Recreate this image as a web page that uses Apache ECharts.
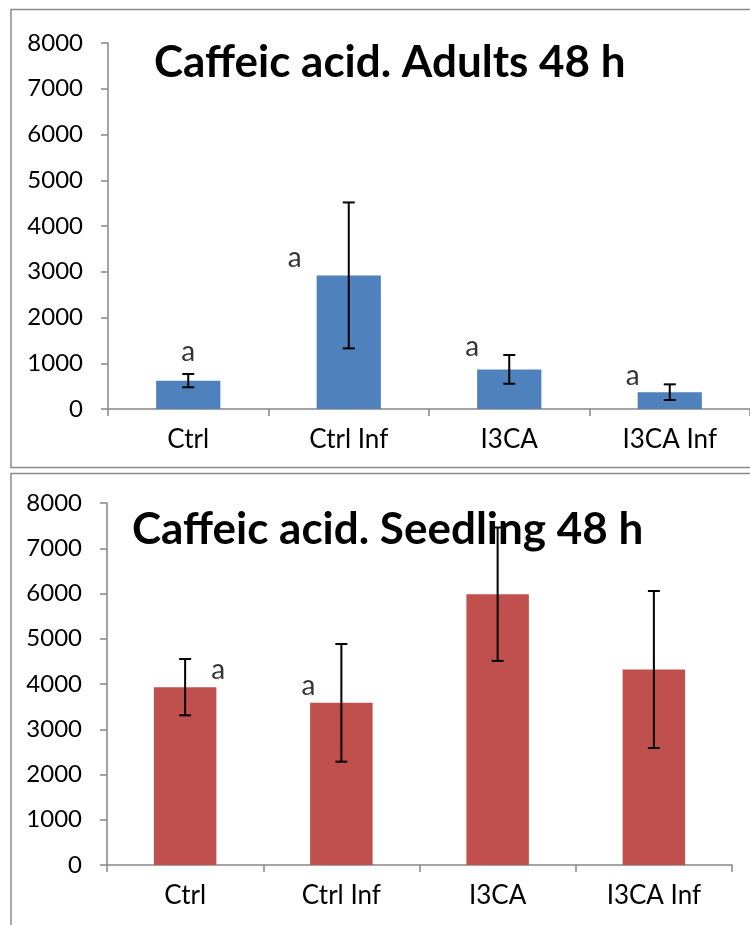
<!DOCTYPE html>
<html>
<head>
<meta charset="utf-8">
<script src="https://cdn.jsdelivr.net/npm/echarts@6/dist/echarts.min.js"></script>
<style>
  html, body { margin: 0; padding: 0; background: #fff; }
  #chart { width: 750px; height: 925px; }
</style>
</head>
<body>
<div id="chart"></div>
<script>
// Categories shared by both panels
const categories = ['Ctrl', 'Ctrl Inf', 'I3CA', 'I3CA Inf'];

// Adults 48 h: means and error half-widths
const adultsMean = [620, 2920, 866, 368];
const adultsErr = [145, 1595, 314, 171];
const adultsLetters = ['a', 'a', 'a', 'a'];
const adultsLetterY = [1257, 3311, 1355, 721];

// Seedling 48 h: means and error half-widths
const seedlingMean = [3930, 3584, 5985, 4320];
const seedlingErr = [622, 1300, 1474, 1735];
const seedlingLetters = ['a', 'a'];
const seedlingLetterY = [4309, 3956];

// Value axis range
const yMin = 0;
const yMax = 8000;
const yStep = 1000;

// Horizontal nudges (px) for the significance letters
const adultsLetterShift = [0, -54, -37, -37];
const seedlingLetterShift = [33, -33];

const FONT = 'Lato';
const AXIS_GRAY = '#868686';

const chart = echarts.init(document.getElementById('chart'), null, { renderer: 'canvas' });

function errorSeries(gridIdx, means, errs) {
  return {
    type: 'custom',
    xAxisIndex: gridIdx,
    yAxisIndex: gridIdx,
    z: 5,
    silent: true,
    data: means.map((m, i) => [i, m, errs[i]]),
    renderItem: function (params, api) {
      const i = api.value(0), m = api.value(1), e = api.value(2);
      const hi = api.coord([i, m + e]);
      const lo = api.coord([i, m - e]);
      const w = 6;
      const style = { stroke: '#000', lineWidth: 2 };
      return {
        type: 'group',
        children: [
          { type: 'line', shape: { x1: hi[0], y1: hi[1], x2: lo[0], y2: lo[1] }, style },
          { type: 'line', shape: { x1: hi[0] - w, y1: hi[1], x2: hi[0] + w, y2: hi[1] }, style },
          { type: 'line', shape: { x1: lo[0] - w, y1: lo[1], x2: lo[0] + w, y2: lo[1] }, style }
        ]
      };
    }
  };
}

function letterSeries(gridIdx, letters, ys, shifts) {
  return {
    type: 'scatter',
    xAxisIndex: gridIdx,
    yAxisIndex: gridIdx,
    symbolSize: 0,
    silent: true,
    z: 6,
    data: letters.map((t, i) => ({
      value: [i, ys[i]],
      label: { offset: [shifts[i], 0], formatter: t }
    })),
    label: {
      show: true,
      position: 'inside',
      color: '#000',
      fontFamily: FONT,
      fontSize: 28
    }
  };
}

function xAxis(gridIdx) {
  return {
    type: 'category',
    gridIndex: gridIdx,
    data: categories,
    axisLine: { lineStyle: { color: AXIS_GRAY, width: 1.5 } },
    axisTick: { show: true, length: 7, lineStyle: { color: AXIS_GRAY, width: 1.5 } },
    axisLabel: { color: '#000', fontFamily: FONT, fontSize: 26, margin: 18 },
    splitLine: { show: false }
  };
}

function yAxis(gridIdx) {
  return {
    type: 'value',
    gridIndex: gridIdx,
    min: yMin,
    max: yMax,
    interval: yStep,
    axisLine: { show: true, lineStyle: { color: AXIS_GRAY, width: 1.5 } },
    axisTick: { show: true, length: 7, lineStyle: { color: AXIS_GRAY, width: 1.5 } },
    axisLabel: {
      color: '#000', fontFamily: FONT, fontSize: 24, margin: 25,
      formatter: v => String(v)
    },
    splitLine: { show: false }
  };
}

const option = {
  animation: false,
  backgroundColor: '#fff',
  title: [
    {
      text: 'Caffeic acid. Adults 48 h',
      left: 149, top: 36,
      textStyle: { fontFamily: FONT, fontWeight: 'bold', fontSize: 44, color: '#000' }
    },
    {
      text: 'Caffeic acid. Seedling 48 h',
      left: 127, top: 503,
      textStyle: { fontFamily: FONT, fontWeight: 'bold', fontSize: 44, color: '#000' }
    }
  ],
  graphic: [
    { type: 'rect', shape: { x: 11, y: 9.5, width: 800, height: 458 },
      style: { fill: 'none', stroke: '#8a8a8a', lineWidth: 1.5 }, z: -1 },
    { type: 'rect', shape: { x: 11, y: 473.5, width: 800, height: 500 },
      style: { fill: 'none', stroke: '#8a8a8a', lineWidth: 1.5 }, z: -1 }
  ],
  grid: [
    { left: 108, top: 43, width: 652, height: 366 },
    { left: 107, top: 503, width: 625, height: 362 }
  ],
  xAxis: [xAxis(0), xAxis(1)],
  yAxis: [yAxis(0), yAxis(1)],
  series: [
    {
      type: 'bar', xAxisIndex: 0, yAxisIndex: 0,
      data: adultsMean, barWidth: '40%',
      itemStyle: { color: '#4F81BD' }, silent: true
    },
    errorSeries(0, adultsMean, adultsErr),
    letterSeries(0, adultsLetters, adultsLetterY, adultsLetterShift),
    {
      type: 'bar', xAxisIndex: 1, yAxisIndex: 1,
      data: seedlingMean, barWidth: '40%',
      itemStyle: { color: '#C0504D' }, silent: true
    },
    errorSeries(1, seedlingMean, seedlingErr),
    letterSeries(1, seedlingLetters, seedlingLetterY, seedlingLetterShift)
  ]
};

chart.setOption(option);
</script>
</body>
</html>
